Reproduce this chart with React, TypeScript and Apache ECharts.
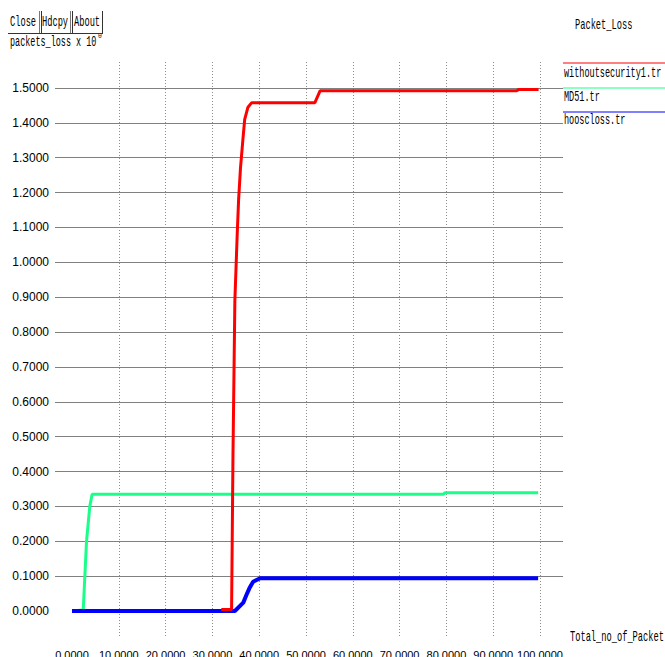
import React, { useEffect, useRef } from 'react';
import * as echarts from 'echarts';

const MONO = '"Liberation Mono", "DejaVu Sans Mono", monospace';
const SANS = '"Liberation Sans", Arial, sans-serif';

const chartTitle = 'Packet_Loss';
const yAxisTitle = 'packets_loss x 10';
const yAxisExp = '0';
const xAxisTitle = 'Total_no_of_Packet';
const buttons = ['Close', 'Hdcpy', 'About'];

const seriesNames = ['withoutsecurity1.tr', 'MD51.tr', 'hooscloss.tr'];
const seriesColors = ['#ff0000', '#1aff8a', '#0000ff'];

const redX = [31.9, 34.1, 34.4, 34.8, 35.3, 35.6, 36.0, 36.5, 36.9, 37.6, 38.4, 51.9, 53.0, 95.0, 95.5, 99.7];
const redY = [0.004, 0.004, 0.45, 0.89, 1.08, 1.18, 1.27, 1.35, 1.41, 1.445, 1.458, 1.458, 1.492, 1.492, 1.496, 1.496];

const greenX = [0, 2.4, 3.1, 3.8, 4.3, 79.3, 79.7, 99.6];
const greenY = [0, 0.003, 0.2, 0.3, 0.335, 0.335, 0.339, 0.339];

const blueX = [0, 34.8, 36.6, 37.4, 37.9, 38.7, 40.2, 99.6];
const blueY = [0, 0, 0.024, 0.05, 0.065, 0.084, 0.094, 0.094];

const pairs = (xs: number[], ys: number[]) => xs.map((x, i) => [x, ys[i]]);

export default function App() {
  const ref = useRef<HTMLDivElement>(null);
  useEffect(() => {
    const chart = echarts.init(ref.current!, null, { renderer: 'svg' });
    const txt = (text: string, x: number, y: number, size = 15, sx = 0.58) => ({
      type: 'text',
      x,
      y,
      scaleX: sx,
      style: { text, fill: '#000', font: `${size}px ${MONO}`, textVerticalAlign: 'middle' },
      silent: true,
    });
    const ln = (x1: number, y1: number, x2: number, y2: number, stroke: string, lineWidth = 1) => ({
      type: 'line',
      shape: { x1, y1, x2, y2 },
      style: { stroke, lineWidth },
      silent: true,
    });
    const legendY = [63, 88, 112];
    const legendTextY = [73, 97, 120];
    const graphics: any[] = [
      txt(chartTitle, 575, 25),
      txt(xAxisTitle, 570, 637),
      txt(yAxisTitle, 10, 42, 15, 0.565),
      txt(yAxisExp, 98, 36, 8, 0.8),
      txt(buttons[0], 10, 22),
      txt(buttons[1], 42, 22),
      txt(buttons[2], 74, 22),
      ln(8, 33.5, 103, 33.5, '#333'),
      ln(39.5, 11, 39.5, 33, '#777'),
      ln(41.5, 11, 41.5, 33, '#333'),
      ln(70.5, 11, 70.5, 33, '#777'),
      ln(72.5, 11, 72.5, 33, '#333'),
      ln(102.5, 11, 102.5, 33, '#333'),
    ];
    seriesNames.forEach((n, i) => {
      graphics.push(ln(563, legendY[i], 665, legendY[i], seriesColors[i]));
      graphics.push(txt(n, 564, legendTextY[i], 15, 0.57));
    });

    const hidden = { show: false };
    const gridBase = { containLabel: false, outerBoundsMode: 'none' };
    chart.setOption({
      animation: false,
      backgroundColor: '#fff',
      textStyle: { fontFamily: SANS },
      grid: [
        { ...gridBase, left: 72, right: 125, top: 88, bottom: 46 },
        { ...gridBase, left: 55, right: 102, top: 88, bottom: 46 },
        { ...gridBase, left: 72, right: 125, top: 62, bottom: 20 },
      ],
      xAxis: [
        {
          gridIndex: 0, type: 'value', min: 0, max: 100, interval: 10,
          axisLine: hidden, axisTick: hidden, splitLine: hidden,
          axisLabel: { margin: 38, color: '#000', fontSize: 11, fontFamily: SANS, formatter: (v: number) => v.toFixed(4) },
        },
        { gridIndex: 1, type: 'value', min: 0, max: 1, show: false },
        {
          gridIndex: 2, type: 'value', min: 0, max: 100, interval: 10,
          axisLine: hidden, axisTick: hidden, axisLabel: hidden,
          splitLine: { show: true, showMinLine: false, lineStyle: { color: '#8c8c8c', width: 1, type: [1, 2] } },
        },
      ],
      yAxis: [
        {
          gridIndex: 0, type: 'value', min: 0, max: 1.5, interval: 0.1,
          axisLine: hidden, axisTick: hidden, splitLine: hidden,
          axisLabel: { margin: 23, color: '#000', fontSize: 12, fontFamily: SANS, formatter: (v: number) => v.toFixed(4) },
        },
        {
          gridIndex: 1, type: 'value', min: 0, max: 1.5, interval: 0.1,
          axisLine: hidden, axisTick: hidden, axisLabel: hidden,
          splitLine: { show: true, showMinLine: false, lineStyle: { color: '#808080', width: 1, type: 'solid' } },
        },
        { gridIndex: 2, type: 'value', min: 0, max: 1, show: false },
      ],
      series: [
        {
          name: seriesNames[1], type: 'line', xAxisIndex: 0, yAxisIndex: 0, data: pairs(greenX, greenY),
          showSymbol: false, lineStyle: { color: seriesColors[1], width: 3 }, z: 3,
        },
        {
          name: seriesNames[2], type: 'line', xAxisIndex: 0, yAxisIndex: 0, data: pairs(blueX, blueY),
          showSymbol: false, lineStyle: { color: seriesColors[2], width: 4 }, z: 4,
        },
        {
          name: seriesNames[0], type: 'line', xAxisIndex: 0, yAxisIndex: 0, data: pairs(redX, redY),
          showSymbol: false, lineStyle: { color: seriesColors[0], width: 3 }, z: 5,
        },
      ],
      graphic: graphics,
    });
    return () => chart.dispose();
  }, []);
  return (
    <div
      ref={ref}
      style={{ position: 'fixed', left: 0, top: 0, width: 665, height: 657, background: '#fff' }}
    />
  );
}
